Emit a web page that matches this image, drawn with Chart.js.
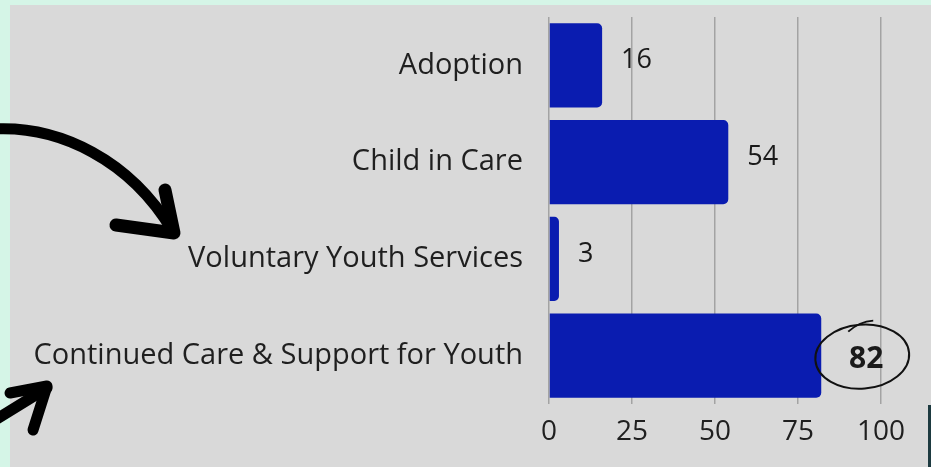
<!DOCTYPE html>
<html lang="en">
<head>
    <meta charset="UTF-8">
    <title>Cases by Service</title>
    <script src="https://cdn.jsdelivr.net/npm/chart.js"></script>
    <style>
        body { margin: 0; background: #d9d9d9; }
    </style>
</head>
<body>
    <canvas id="serviceChart" width="931" height="467"></canvas>

    <script>
        var categories = ['Adoption', 'Child in Care', 'Voluntary Youth Services', 'Continued Care & Support for Youth'];
        var counts = [16, 54, 3, 82];
        var xTicks = [0, 25, 50, 75, 100];

        var labelFont = '"Open Sans", "Noto Sans", sans-serif';

        // page backdrop + hand drawn arrows
        var decor = {
            id: 'decor',
            beforeDraw: function (chart) {
                var ctx = chart.ctx;
                ctx.save();
                ctx.fillStyle = '#d5f5e7';
                ctx.fillRect(0, 0, chart.width, chart.height);
                ctx.fillStyle = '#d9d9d9';
                ctx.fillRect(10, 5, chart.width - 10, chart.height - 5);
                ctx.fillStyle = '#1d3a40';
                ctx.fillRect(928, 405, 3, 62);
                ctx.restore();
            },
            afterDraw: function (chart) {
                var ctx = chart.ctx;
                ctx.save();
                ctx.strokeStyle = '#000';
                ctx.lineCap = 'round';
                ctx.lineJoin = 'round';
                ctx.lineWidth = 11;
                ctx.beginPath();
                ctx.moveTo(-5, 129);
                ctx.bezierCurveTo(60, 126, 130, 160, 172, 230);
                ctx.stroke();
                ctx.lineWidth = 13;
                ctx.beginPath();
                ctx.moveTo(165, 190);
                ctx.lineTo(174, 233);
                ctx.lineTo(116, 225);
                ctx.stroke();

                ctx.lineWidth = 11;
                ctx.beginPath();
                ctx.moveTo(-5, 420);
                ctx.lineTo(47, 388);
                ctx.stroke();
                ctx.beginPath();
                ctx.moveTo(10, 393);
                ctx.lineTo(47, 386);
                ctx.lineTo(33, 430);
                ctx.stroke();
                ctx.restore();
            }
        };

        // value labels next to bar ends, the biggest one circled
        var valueLabels = {
            id: 'valueLabels',
            afterDatasetsDraw: function (chart) {
                var ctx = chart.ctx;
                var bars = chart.getDatasetMeta(0).data;
                var top = Math.max.apply(null, counts);
                ctx.save();
                ctx.fillStyle = '#1a1a1a';
                ctx.textBaseline = 'middle';
                bars.forEach(function (bar, i) {
                    if (counts[i] === top) {
                        var cx = bar.x + 41, cy = bar.y;
                        ctx.font = 'bold 30px ' + labelFont;
                        ctx.textAlign = 'center';
                        ctx.fillText(counts[i], cx + 4, cy + 4);
                        ctx.strokeStyle = '#111';
                        ctx.lineWidth = 2;
                        ctx.beginPath();
                        ctx.ellipse(cx, cy + 1, 47, 32, -0.08, 0, Math.PI * 2);
                        ctx.stroke();
                        ctx.beginPath();
                        ctx.moveTo(bar.x + 27, bar.y - 24);
                        ctx.quadraticCurveTo(bar.x + 38, bar.y - 34, bar.x + 52, bar.y - 35);
                        ctx.stroke();
                    } else {
                        ctx.font = '27px ' + labelFont;
                        ctx.textAlign = 'left';
                        ctx.fillText(counts[i], bar.x + 19, bar.y - 5);
                    }
                });
                ctx.restore();
            }
        };

        var serviceChart = new Chart(document.getElementById('serviceChart').getContext('2d'), {
            type: 'bar',
            data: {
                labels: categories,
                datasets: [{
                    data: counts,
                    backgroundColor: '#0a1cb0',
                    borderRadius: 5,
                    borderSkipped: 'start',
                    categoryPercentage: 1,
                    barPercentage: 0.87
                }]
            },
            plugins: [decor, valueLabels],
            options: {
                indexAxis: 'y',
                responsive: false,
                animation: false,
                layout: { padding: { top: 17, right: 50, bottom: 0, left: 0 } },
                plugins: {
                    legend: { display: false },
                    tooltip: { enabled: false }
                },
                scales: {
                    x: {
                        min: 0,
                        max: 100,
                        afterBuildTicks: function (scale) {
                            scale.ticks = xTicks.map(function (v) { return { value: v }; });
                        },
                        afterFit: function (scale) {
                            scale.height = 63;
                            scale.paddingLeft = 0;
                            scale.paddingRight = 0;
                        },
                        grid: { color: '#a3a3a3', lineWidth: 1.5, drawTicks: false },
                        border: { display: false },
                        ticks: {
                            color: '#1f1f1f',
                            padding: 11,
                            font: { family: labelFont, size: 28 }
                        }
                    },
                    y: {
                        afterFit: function (scale) {
                            scale.width = 549;
                            scale.paddingTop = 0;
                            scale.paddingBottom = 0;
                        },
                        grid: { display: false, drawTicks: false },
                        border: { display: false },
                        ticks: {
                            color: '#1f1f1f',
                            padding: 26,
                            font: { family: labelFont, size: 29 }
                        }
                    }
                }
            }
        });
    </script>
</body>
</html>
